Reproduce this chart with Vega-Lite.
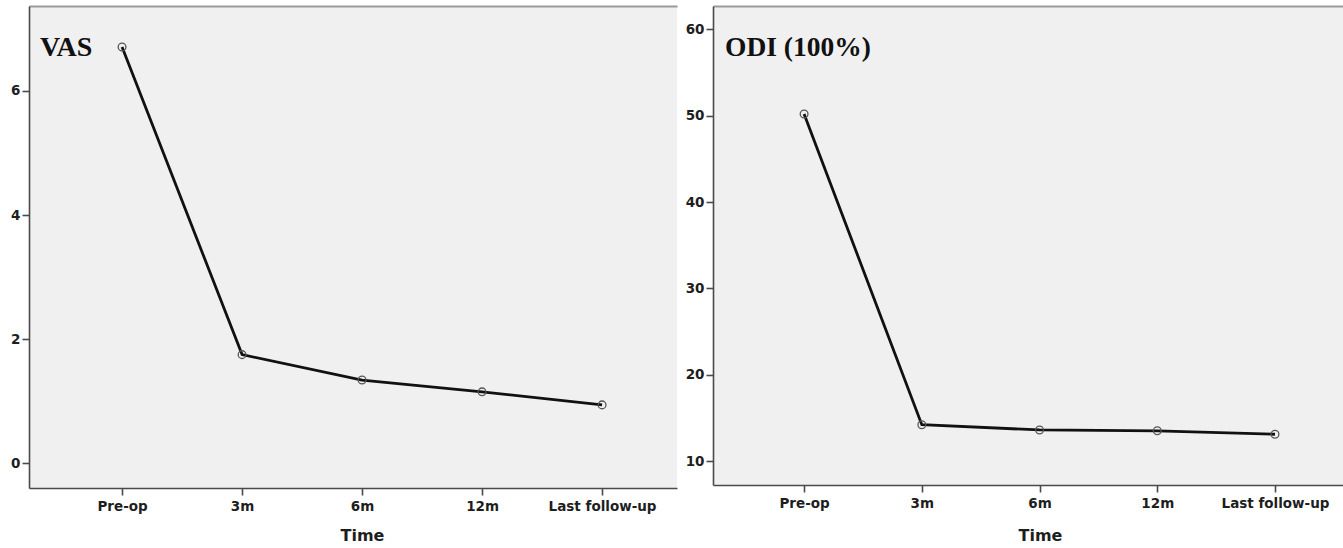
{
  "$schema": "https://vega.github.io/schema/vega-lite/v6.json",
  "background": "white",
  "padding": {"left": 10, "top": 6, "right": 0, "bottom": 0},
  "spacing": 8,
  "config": {
    "view": {"fill": "#f0f0f0", "stroke": null},
    "axis": {
      "labelFont": "DejaVu Sans",
      "labelFontWeight": "bold",
      "labelFontSize": 13.5,
      "labelColor": "#1e1e1e",
      "grid": false,
      "domainColor": "#4a4a4a",
      "tickColor": "#4a4a4a",
      "domainWidth": 1.6,
      "tickWidth": 1.6,
      "tickSize": 7,
      "titleFont": "DejaVu Sans",
      "titleFontWeight": "bold",
      "titleFontSize": 16,
      "titleColor": "#1e1e1e"
    }
  },
  "datasets": {
    "vas": [
      {"time": "Pre-op", "value": 6.71},
      {"time": "3m", "value": 1.75},
      {"time": "6m", "value": 1.34},
      {"time": "12m", "value": 1.15},
      {"time": "Last follow-up", "value": 0.94}
    ],
    "odi": [
      {"time": "Pre-op", "value": 50.2},
      {"time": "3m", "value": 14.2},
      {"time": "6m", "value": 13.6},
      {"time": "12m", "value": 13.5},
      {"time": "Last follow-up", "value": 13.1}
    ]
  },
  "hconcat": [
    {
      "width": 648,
      "height": 482,
      "data": {"name": "vas"},
      "title": {"text": "VAS", "anchor": "start", "frame": "group", "orient": "top", "offset": -78, "dx": 11, "font": "Liberation Serif", "fontSize": 28, "fontWeight": "bold", "color": "#111111", "baseline": "alphabetic"},
      "resolve": {"axis": {"x": "independent"}},
      "encoding": {
        "y": {"field": "value", "type": "quantitative", "scale": {"domain": [-0.4, 7.37], "nice": false, "zero": false}, "axis": {"values": [0, 2, 4, 6], "title": null, "labelPadding": 2}}
      },
      "layer": [
        {
          "mark": {"type": "line", "color": "#111111", "strokeWidth": 2.8},
          "encoding": {
            "x": {"field": "time", "type": "ordinal", "sort": ["Pre-op", "3m", "6m", "12m", "Last follow-up"], "scale": {"type": "point", "padding": 0.7, "align": 0.554}, "axis": {"title": "Time", "labelAngle": 0, "labelPadding": 4, "titlePadding": 15, "titleX": 333}}
          }
        },
        {
          "mark": {"type": "point", "shape": "circle", "size": 60, "stroke": "#555555", "strokeWidth": 1.3, "filled": false, "opacity": 1},
          "encoding": {
            "x": {"field": "time", "type": "ordinal", "sort": ["Pre-op", "3m", "6m", "12m", "Last follow-up"], "scale": {"type": "point", "padding": 0.7, "align": 0.554}, "axis": {"orient": "top", "labels": false, "ticks": false, "title": null, "domainColor": "#9a9a9a", "domainWidth": 2}}
          }
        }
      ]
    },
    {
      "width": 631,
      "height": 479,
      "data": {"name": "odi"},
      "title": {"text": "ODI (100%)", "anchor": "start", "frame": "group", "orient": "top", "offset": -77, "dx": 12, "font": "Liberation Serif", "fontSize": 27.5, "fontWeight": "bold", "color": "#111111", "baseline": "alphabetic"},
      "resolve": {"axis": {"x": "independent"}},
      "encoding": {
        "y": {"field": "value", "type": "quantitative", "scale": {"domain": [7.22, 62.72], "nice": false, "zero": false}, "axis": {"values": [10, 20, 30, 40, 50, 60], "title": null, "labelPadding": 2}}
      },
      "layer": [
        {
          "mark": {"type": "line", "color": "#111111", "strokeWidth": 2.8},
          "encoding": {
            "x": {"field": "time", "type": "ordinal", "sort": ["Pre-op", "3m", "6m", "12m", "Last follow-up"], "scale": {"type": "point", "padding": 0.68, "align": 0.569}, "axis": {"title": "Time", "labelAngle": 0, "labelPadding": 4, "titlePadding": 18, "titleX": 327}}
          }
        },
        {
          "mark": {"type": "point", "shape": "circle", "size": 60, "stroke": "#555555", "strokeWidth": 1.3, "filled": false, "opacity": 1},
          "encoding": {
            "x": {"field": "time", "type": "ordinal", "sort": ["Pre-op", "3m", "6m", "12m", "Last follow-up"], "scale": {"type": "point", "padding": 0.68, "align": 0.569}, "axis": {"orient": "top", "labels": false, "ticks": false, "title": null, "domainColor": "#9a9a9a", "domainWidth": 2}}
          }
        }
      ]
    }
  ]
}
